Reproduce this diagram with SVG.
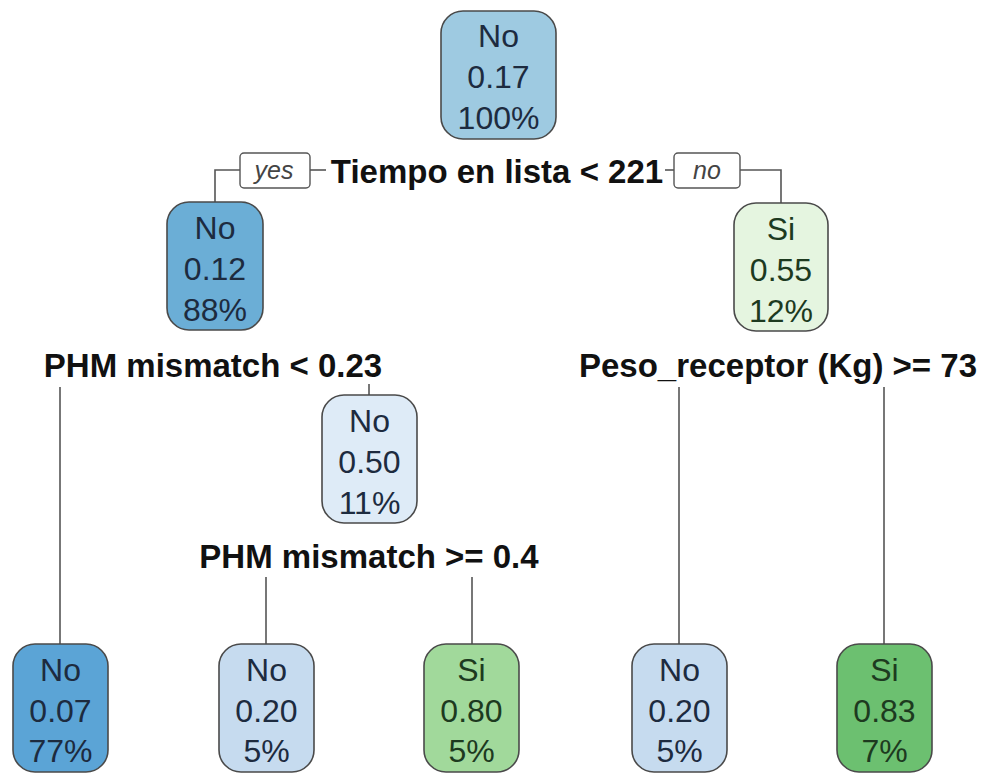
<svg xmlns="http://www.w3.org/2000/svg" width="987" height="773" viewBox="0 0 987 773">
<style>
.box{stroke:#4a4a4a;stroke-width:1.6}
.t{font-family:"Liberation Sans",Arial,sans-serif;font-size:32px;text-anchor:middle}
.tb{fill:#1d2b3f}
.tg{fill:#1d3a1f}
.split{font-family:"Liberation Sans",Arial,sans-serif;font-size:33px;font-weight:bold;fill:#111;text-anchor:middle}
.yn{font-family:"Liberation Sans",Arial,sans-serif;font-size:25px;font-style:italic;fill:#444;text-anchor:middle}
.ynbox{fill:#fff;stroke:#555;stroke-width:1.4}
.c{fill:none;stroke:#555;stroke-width:1.6}
</style>
<rect width="987" height="773" fill="#fff"/>
<g id="connectors">
<path class="c" d="M240,170 H215 V202"/>
<path class="c" d="M310,170 H326"/>
<path class="c" d="M665,170 H674"/>
<path class="c" d="M740,170 H781 V203"/>
<path class="c" d="M60,387 V644"/>
<path class="c" d="M369,384 V395"/>
<path class="c" d="M266,577 V644"/>
<path class="c" d="M472,577 V644"/>
<path class="c" d="M679,387 V644"/>
<path class="c" d="M884,387 V644"/>
</g>
<g id="edge-labels">
<rect class="ynbox" x="240" y="153" width="70" height="35" rx="4"/>
<text class="yn" x="274" y="179">yes</text>
<rect class="ynbox" x="674" y="153" width="66" height="35" rx="4"/>
<text class="yn" x="707" y="179">no</text>
</g>
<g id="split-labels">
<text class="split" x="497" y="183">Tiempo en lista &lt; 221</text>
<text class="split" x="213" y="377">PHM mismatch &lt; 0.23</text>
<text class="split" x="778" y="377">Peso_receptor (Kg) &gt;= 73</text>
<text class="split" x="369" y="568">PHM mismatch &gt;= 0.4</text>
</g>
<g id="node-root">
<rect class="box" x="441" y="11" width="115" height="128" rx="22" fill="#9ecae1"/>
<text class="t tb" x="498.5" y="47">No</text>
<text class="t tb" x="498.5" y="88">0.17</text>
<text class="t tb" x="498.5" y="129">100%</text>
</g>
<g id="node-2">
<rect class="box" x="167" y="202" width="96" height="128" rx="22" fill="#6baed6"/>
<text class="t tb" x="215" y="239">No</text>
<text class="t tb" x="215" y="280">0.12</text>
<text class="t tb" x="215" y="321">88%</text>
</g>
<g id="node-3">
<rect class="box" x="734" y="203" width="94" height="128" rx="22" fill="#e5f5e0"/>
<text class="t tg" x="781" y="240">Si</text>
<text class="t tg" x="781" y="281">0.55</text>
<text class="t tg" x="781" y="322">12%</text>
</g>
<g id="node-4">
<rect class="box" x="322" y="395" width="95" height="128" rx="22" fill="#deebf7"/>
<text class="t tb" x="369.5" y="432">No</text>
<text class="t tb" x="369.5" y="473">0.50</text>
<text class="t tb" x="369.5" y="514">11%</text>
</g>
<g id="leaf-1">
<rect class="box" x="13" y="644" width="95" height="128" rx="22" fill="#5ba4d6"/>
<text class="t tb" x="60.5" y="681">No</text>
<text class="t tb" x="60.5" y="722">0.07</text>
<text class="t tb" x="60.5" y="762">77%</text>
</g>
<g id="leaf-2">
<rect class="box" x="219" y="644" width="95" height="128" rx="22" fill="#c6dbef"/>
<text class="t tb" x="266.5" y="681">No</text>
<text class="t tb" x="266.5" y="722">0.20</text>
<text class="t tb" x="266.5" y="762">5%</text>
</g>
<g id="leaf-3">
<rect class="box" x="424" y="644" width="95" height="128" rx="22" fill="#a1d99b"/>
<text class="t tg" x="471.5" y="681">Si</text>
<text class="t tg" x="471.5" y="722">0.80</text>
<text class="t tg" x="471.5" y="762">5%</text>
</g>
<g id="leaf-4">
<rect class="box" x="632" y="644" width="95" height="128" rx="22" fill="#c6dbef"/>
<text class="t tb" x="679.5" y="681">No</text>
<text class="t tb" x="679.5" y="722">0.20</text>
<text class="t tb" x="679.5" y="762">5%</text>
</g>
<g id="leaf-5">
<rect class="box" x="837" y="644" width="95" height="128" rx="22" fill="#6cc070"/>
<text class="t tg" x="884.5" y="681">Si</text>
<text class="t tg" x="884.5" y="722">0.83</text>
<text class="t tg" x="884.5" y="762">7%</text>
</g>
</svg>
